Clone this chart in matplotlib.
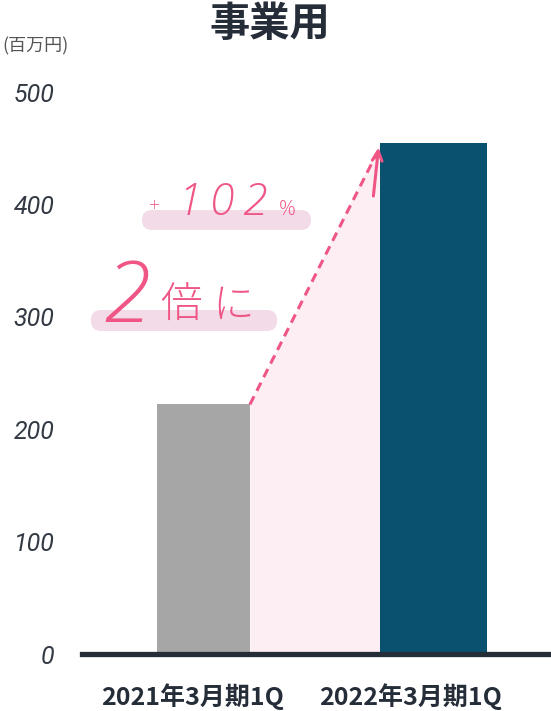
import numpy as np
import matplotlib
matplotlib.use('Agg')
import matplotlib.pyplot as plt
from matplotlib.patches import FancyBboxPatch
from matplotlib.transforms import ScaledTranslation

plt.rcParams['font.family'] = ['Noto Sans CJK JP', 'DejaVu Sans']

# --- data ---
categories = ['2021年3月期1Q', '2022年3月期1Q']
values = [222, 455]
bar_colors = ['#a6a6a6', '#0a5170']
bar_widths = [0.404, 0.465]
yticks = [0, 100, 200, 300, 400, 500]

PINK = '#ef5685'
HL = '#f3dbe7'
DARK = '#252d38'

W, H = 551, 711
fig = plt.figure(figsize=(W / 100, H / 100), dpi=100)
ax = fig.add_axes([85 / W, (H - 654) / H, 466 / W, (654 - 92) / H])

x = np.arange(len(categories))
ax.bar(x, values, width=bar_widths, color=bar_colors, zorder=3)

# pink band between the two bars
x0r = x[0] + bar_widths[0] / 2
x1l = x[1] - bar_widths[1] / 2
ax.fill_between([x0r, x1l], [values[0], values[1]], 0, color='#fdeef3', lw=0, zorder=2)

# dashed arrow
ax.plot([x0r, x1l - 0.01], [values[0], values[1] - 8], ls=(0, (3, 2)), color=PINK, lw=2.2, zorder=4)
ax.annotate('', xy=(x1l - 0.005, values[1] - 2), xytext=(x1l - 0.03, values[1] - 50),
            arrowprops=dict(arrowstyle='->,head_length=0.7,head_width=0.35', color=PINK, lw=2.2),
            zorder=4)

ax.set_xlim(-0.515, 1.511)
ax.set_ylim(0, 500)
ax.set_yticks(yticks)
ax.set_yticklabels([str(v) for v in yticks], family='Roboto', style='italic',
                   fontsize=18, color='#333a44')
ax.tick_params(axis='y', length=0, pad=22)
ax.set_xticks(x)
ax.set_xticklabels(categories, fontsize=18, weight='bold', color=DARK)
ax.tick_params(axis='x', length=0, pad=21)
for lab, dx in zip(ax.get_xticklabels(), [-11, -23]):
    lab.set_transform(lab.get_transform() + ScaledTranslation(dx / 100, 0, fig.dpi_scale_trans))
for s in ['top', 'right', 'left', 'bottom']:
    ax.spines[s].set_visible(False)
ax.set_facecolor('none')
ax.plot([-0.53, 1.52], [0, 0], color=DARK, lw=3.8, clip_on=False, zorder=5)

# overlay in pixel coordinates for titles and callouts
ov = fig.add_axes([0, 0, 1, 1], zorder=-1)
ov.set_xlim(0, W)
ov.set_ylim(H, 0)
ov.axis('off')

ov.text(270, 25, '事業用', ha='center', va='center', fontsize=29, weight='bold', color=DARK)
ov.text(2, 46, '(百万円)', ha='left', va='center', fontsize=13, color='#555555')

ov.add_patch(FancyBboxPatch((142, 210), 169, 20, boxstyle='round,pad=0,rounding_size=10',
                            fc=HL, ec='none'))
ov.add_patch(FancyBboxPatch((91, 310), 186, 21, boxstyle='round,pad=0,rounding_size=10',
                            fc=HL, ec='none'))

CALL = dict(color=PINK, family='Open Sans', weight=300)
ov.text(154, 206, '+', ha='center', va='center', fontsize=14, **CALL)
for ch, cx in zip('102', [190, 222, 254]):
    ov.text(cx, 215, ch, ha='center', va='baseline', fontsize=32, style='italic', **CALL)
ov.text(287, 215, '%', ha='center', va='baseline', fontsize=15, **CALL)

ov.text(127, 322, '2', ha='center', va='baseline', fontsize=61, style='italic', **CALL)
ov.text(181, 305, '倍', ha='center', va='center', fontsize=30, color=PINK, weight='light')
ov.text(233, 306, 'に', ha='center', va='center', fontsize=30, color=PINK, weight='light')

fig.savefig('out.png', dpi=100)
